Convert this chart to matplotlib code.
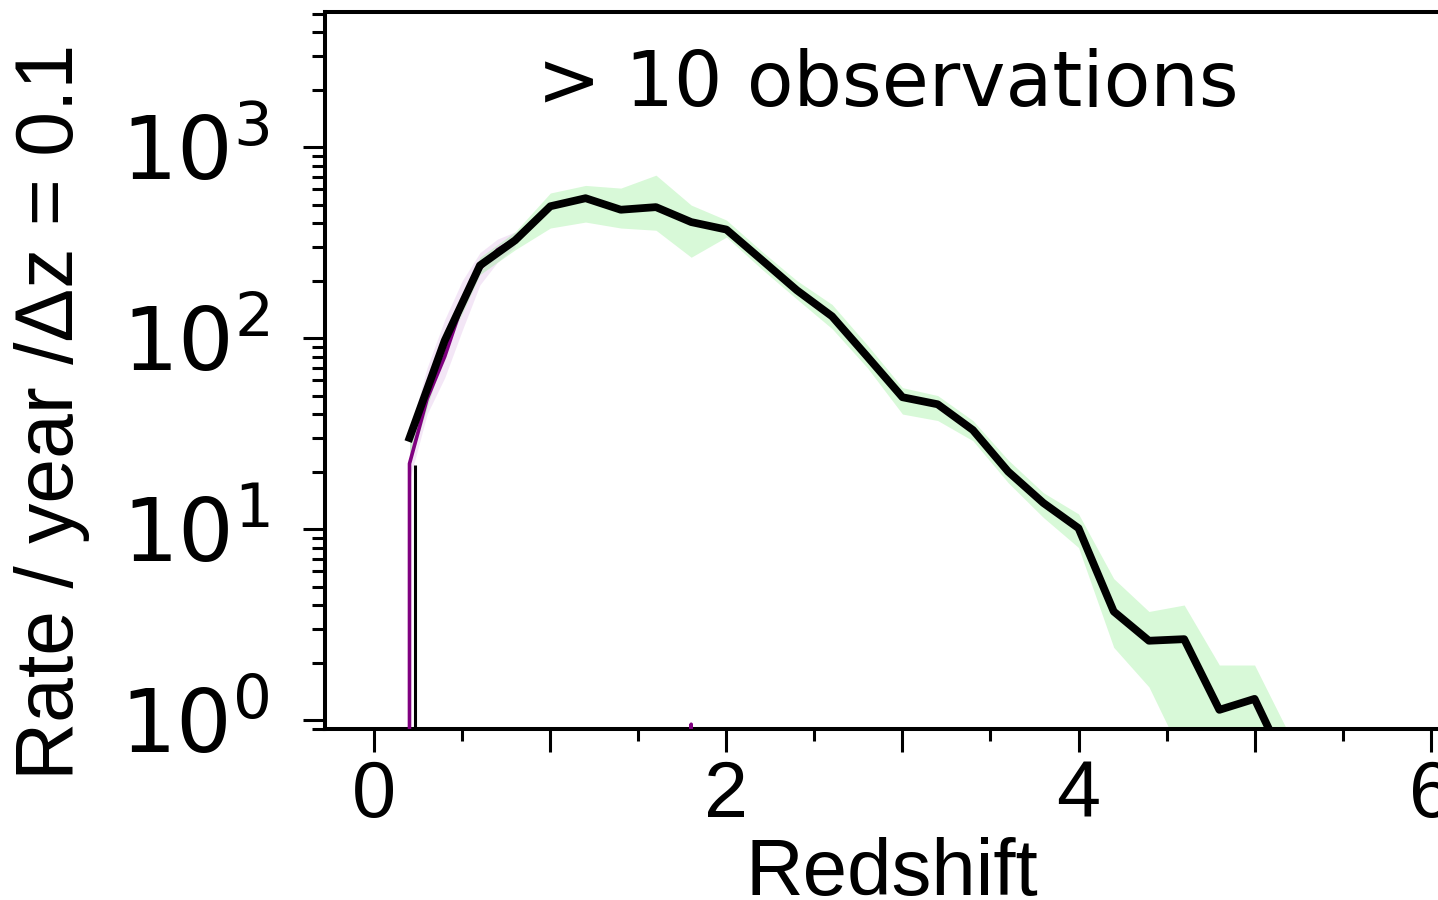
import numpy as np
import matplotlib
matplotlib.use("Agg")
import matplotlib.pyplot as plt
from matplotlib.ticker import FixedLocator, LogLocator, FuncFormatter, NullFormatter, MultipleLocator

plt.rcParams["font.family"] = ["Liberation Sans", "DejaVu Sans"]
plt.rcParams["mathtext.fontset"] = "dejavusans"

# ---- data ----
z = [0.2, 0.4, 0.6, 0.8, 1.0, 1.2, 1.4, 1.6, 1.8, 2.0, 2.2, 2.4, 2.6, 2.8, 3.0,
     3.2, 3.4, 3.6, 3.8, 4.0, 4.2, 4.4, 4.6, 4.8, 5.0, 5.2]
rate = [30, 97, 240, 325, 490, 540, 470, 485, 405, 370, 257, 178, 130, 80, 49,
        45, 33, 20, 13.7, 10.1, 3.7, 2.6, 2.65, 1.13, 1.29, 0.53]
rate_hi = [34, 110, 265, 360, 575, 630, 610, 713, 497, 415, 285, 200, 150, 92, 55,
           50, 37, 23, 15.5, 12, 5.5, 3.7, 4.0, 1.94, 1.94, 0.83]
rate_lo = [22, 85, 215, 290, 377, 405, 377, 367, 265, 338, 230, 160, 112, 70, 40,
           37, 29, 17.5, 11.5, 8, 2.4, 1.49, 0.62, 0.4, 0.5, 0.3]

# purple (other sample) - zeros are clipped on the log axis, NaN breaks the line
z_p = [0.1, 0.2, 0.3, 0.4, 0.5, 0.6, 0.7, 0.8, 0.9, 1.7, 1.8, 1.9]
rate_p = [0, 22, 48, 80, 150, 230, 290, 330, np.nan, 0, 0.95, 0]
z_pb = [0.2, 0.3, 0.4, 0.5, 0.6, 0.7, 0.8]
rate_p_hi = [32, 70, 125, 200, 280, 330, 360]
rate_p_lo = [18, 40, 62, 110, 190, 250, 300]

z_v = [0.23]
rate_v = [21.6]

xticks_major = [0, 1, 2, 3, 4, 5, 6]
xtick_labels = ["0", "", "2", "", "4", "", "6"]
yticks = [1, 10, 100, 1000]
title = "> 10 observations"
xlabel = "Redshift"
ylabel = "Rate / year /\u0394z = 0.1"

# ---- figure ----
W, H = 1438, 900
fig = plt.figure(figsize=(W / 100, H / 100), dpi=100)
left_px, right_px, bottom_px, top_px = 325, 1450, 729, 12
ax = fig.add_axes([left_px / W, 1 - bottom_px / H, (right_px - left_px) / W, (bottom_px - top_px) / H])

ax.set_yscale("log")
ax.fill_between(z_pb, rate_p_lo, rate_p_hi, color="#e6c8ec", alpha=0.45, lw=0, zorder=1)
ax.fill_between(z, rate_lo, rate_hi, color="lightgreen", alpha=0.35, lw=0, zorder=2)
ax.plot(z_p, rate_p, color="#800080", lw=2.6, zorder=3)
ax.plot(z, rate, color="black", lw=5.6, zorder=4)
ax.vlines(z_v, 1e-3, rate_v, color="black", lw=2.2, zorder=5)

ax.set_xlim(-0.28, 6.11)
ax.set_ylim(0.897, 5100)

for s in ax.spines.values():
    s.set_linewidth(2.9)
ax.spines["right"].set_visible(False)

ax.xaxis.set_major_locator(FixedLocator(xticks_major))
ax.set_xticklabels(xtick_labels)
ax.xaxis.set_minor_locator(MultipleLocator(0.5))
ax.yaxis.set_major_locator(FixedLocator(yticks))
ax.yaxis.set_major_formatter(FuncFormatter(lambda v, p: r"$10^{%d}$" % int(round(np.log10(v)))))
ax.yaxis.set_minor_locator(LogLocator(base=10, subs=np.arange(2, 10), numticks=20))
ax.yaxis.set_minor_formatter(NullFormatter())

ax.tick_params(axis="x", which="major", direction="out", length=16.5, width=2.2, pad=5,
               labelsize=57)
ax.tick_params(axis="x", which="minor", direction="out", length=8.6, width=2.2)
ax.tick_params(axis="y", which="major", direction="out", length=16, width=2.2, pad=24,
               labelsize=63)
ax.tick_params(axis="y", which="minor", direction="out", length=9.4, width=2.2)

fig.text(892 / W, 1 - 895 / H, xlabel, ha="center", va="baseline", fontsize=57.5)
fig.text(52 / W, 1 - 412 / H, ylabel, rotation=90, ha="center", va="center",
         fontsize=58)
ax.text(0.5, 0.8976, title, transform=ax.transAxes, ha="center", va="center",
        fontsize=55, family="DejaVu Sans")

fig.savefig("out.png", dpi=100)
